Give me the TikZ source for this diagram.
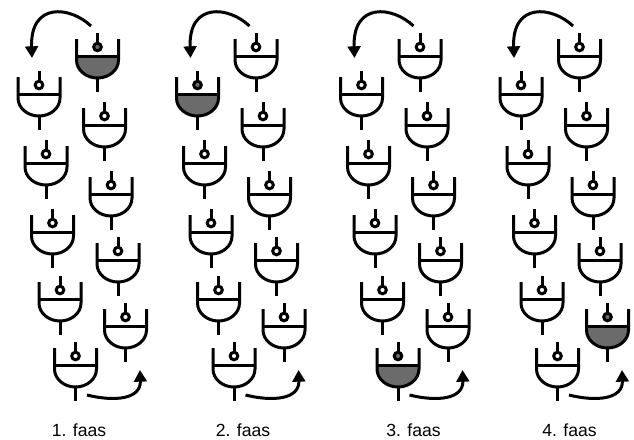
\documentclass[tikz,border=0pt]{standalone}
\usepackage{fontspec}
\setmainfont{Liberation Sans}
\usetikzlibrary{arrows.meta, calc}
\definecolor{gatefill}{HTML}{6B6B6B}
\definecolor{gateline}{HTML}{000000}

\tikzset{
  pics/gate/.style={code={
    \fill[fill=#1] (-21,17) -- (21,17) -- (21,21)
      arc[start angle=0, end angle=180, x radius=21, y radius=18] -- cycle;
    \draw (-21,0) -- (-21,21)
      arc[start angle=180, end angle=0, x radius=21, y radius=18] -- (21,0);
    \draw (-21,17) -- (21,17);
    \draw (0,39) -- (0,53);
    \draw (0,-6) -- (0,4.2);
    \filldraw[fill=#1] (0,8) circle[radius=3.8];
    \coordinate (-top) at (0,-6);
    \coordinate (-stem) at (0,53);
  }},
  pics/gate/.default=white,
  flow/.style={-{Triangle[length=0.35cm, width=0.38cm]}},
}

\begin{document}
\begin{tikzpicture}[x=0.03cm, y=-0.03cm, line width=0.09cm, draw=gateline,
                    font=\fontsize{15}{18}\selectfont]
  \useasboundingbox (0,0) rectangle (634,439);
  \foreach \n/\off/\hot/\lx in {1/0/r1/79, 2/158.5/l1/243,
                                3/322.5/l5/413.5, 4/482/r5/569.5}{
    \node (lab\n) at (\lx,430.5) {\n. faas};
    \begin{scope}[shift={(\off,0)}]
      % two staggered rows of gates
      \foreach \g/\x/\y in {r1/97.5/39, l1/39/77, r2/104.5/108, l2/46/146,
                            r3/111/177, l3/52.5/215, r4/118/243, l4/60/282,
                            r5/125.5/309, l5/75.5/348}{
        \edef\gatecol{\ifx\g\hot gatefill\else white\fi}
        \pic (p\n-\g) at (\x,\y) {gate=\gatecol};
      }
    \end{scope}
    \coordinate (p\n-a) at ($(p\n-r1-top)+(-6.5,-7)$);
    \coordinate (p\n-b) at ($(p\n-l1-top)+(-7,-13)$);
    \coordinate (p\n-c) at ($(p\n-l5-stem)+(11.5,-6)$);
    \coordinate (p\n-d) at ($(p\n-r5-stem)+(14.5,8)$);
    \draw[flow] (p\n-a) .. controls +(-21,-20) and +(-2,-56) .. (p\n-b);
    \draw[flow] (p\n-c) .. controls +(28,7) and +(1,29) .. (p\n-d);
  }
\end{tikzpicture}
\end{document}
